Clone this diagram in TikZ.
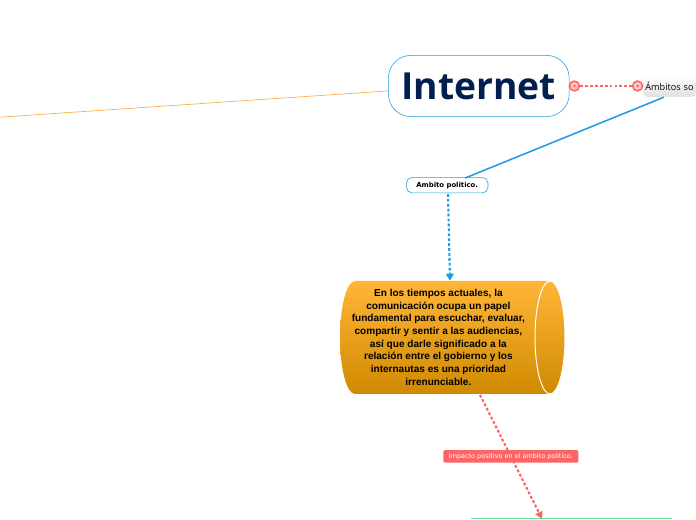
\documentclass[tikz,border=0pt]{standalone}
\usepackage{fontspec}
\setmainfont{Open Sans}
\newfontfamily\verdanafont{DejaVu Sans}
\newfontfamily\bodyfont{Liberation Sans}
\usetikzlibrary{arrows.meta}
\definecolor{linkblue}{HTML}{1F9CE4}
\definecolor{linkred}{HTML}{FF6464}
\definecolor{linkorange}{HTML}{F9B04E}
\definecolor{linkgreen}{HTML}{6FE3A0}
\definecolor{titleblue}{HTML}{031F4F}
\definecolor{drumtop}{HTML}{FFB638}
\definecolor{drumbottom}{HTML}{D08A00}
\tikzstyle{topic}=[draw=linkblue, fill=white, rounded corners=16pt, inner sep=0pt]
\tikzstyle{subtopic}=[draw=linkblue, fill=white, rounded corners=4pt, inner sep=0pt]
\tikzstyle{dotlink}=[dash pattern=on 2pt off 1.5pt, line width=1.5pt]
\tikzstyle{endring}=[circle, draw=linkred, fill=linkred!35, line width=1.1pt, minimum size=7pt, inner sep=0pt]

\begin{document}
\begin{tikzpicture}
    \useasboundingbox (0, 0) rectangle (17.4, 13);
    \clip (0, 0) rectangle (17.4, 13);
    \coordinate (Edge) at (0, 10.07);
    \node[topic, minimum width=128.6pt, minimum height=43.5pt, font=\bfseries\fontsize{26.5}{26}\selectfont, text=titleblue] (Internet) at (11.97, 10.85) {Internet};
    \node[top color=white, bottom color=black!12, rounded corners=3pt, minimum width=37.5pt, minimum height=15.5pt, inner sep=0pt, anchor=west, font=\fontsize{6.5}{8}\selectfont, text width=37.5pt, align=left] (Ambitos) at (16.075, 10.85) {\hspace{1.5pt}Ámbitos so};
    \node[subtopic, minimum width=58pt, minimum height=11pt, font=\verdanafont\bfseries\fontsize{4.9}{6}\selectfont] (Politico) at (11.18, 8.37) {Ambito politico.};
    \shade[top color=drumtop, bottom color=drumbottom] (13.75, 5.975) arc[start angle=90, end angle=-90, x radius=0.375, y radius=1.4125] -- (8.875, 3.15) arc[start angle=270, end angle=90, x radius=0.375, y radius=1.4125] -- cycle;
    \draw[white, line width=0.7pt] (13.75, 5.975) arc[start angle=90, end angle=270, x radius=0.375, y radius=1.4125] arc[start angle=-90, end angle=90, x radius=0.375, y radius=1.4125];
    \node[align=center, inner sep=0pt, font=\bodyfont\bfseries\fontsize{7.15}{9}\selectfont] (Texto) at (10.96, 4.57) {En los tiempos actuales, la\\comunicación ocupa un papel\\fundamental para escuchar, evaluar,\\compartir y sentir a las audiencias,\\así que darle significado a la\\relación entre el gobierno y los\\internautas es una prioridad\\irrenunciable.};
    \coordinate (ImpactoLeft) at (11.775, 0.03);
    \coordinate (ImpactoRight) at (16.8, 0.03);
    \draw[linkgreen, line width=0.8pt] (ImpactoLeft) -- (ImpactoRight);
    \coordinate (AmbitosEnd) at (16.6, 10.57);
    \coordinate (PoliticoEnd) at (11.63, 8.55);
    \draw[linkorange, line width=0.5pt] (Edge) -- ([yshift=-3.5pt]Internet.west);
    \draw[linkblue, line width=1.1pt] (AmbitosEnd) -- (PoliticoEnd);
    \node[endring] (RingA) at (14.36, 10.85) {};
    \node[endring] (RingB) at (15.94, 10.85) {};
    \fill[linkred] (RingA) circle (1pt);
    \fill[linkred] (RingB) circle (1pt);
    \draw[linkred, dotlink] (RingA) -- (RingB);
    \coordinate (PoliticoOut) at (11.2, 8.15);
    \coordinate (TextoIn) at (11.25, 5.98);
    \draw[linkblue, dotlink, -{Triangle[length=5pt, width=5.5pt]}] (PoliticoOut) -- (TextoIn);
    \coordinate (TextoOut) at (12.0, 3.13);
    \coordinate (ImpactoIn) at (13.55, 0.03);
    \draw[linkred, dotlink, -{Triangle[length=5pt, width=5.5pt]}] (TextoOut) -- (ImpactoIn);
    \node[fill=linkred, text=white, rounded corners=1pt, minimum width=96pt, minimum height=9pt, inner sep=0pt, font=\verdanafont\fontsize{4.6}{6}\selectfont] (ImpactoLabel) at (12.77, 1.59) {Impacto positivo en el ambito politico.};
\end{tikzpicture}
\end{document}
